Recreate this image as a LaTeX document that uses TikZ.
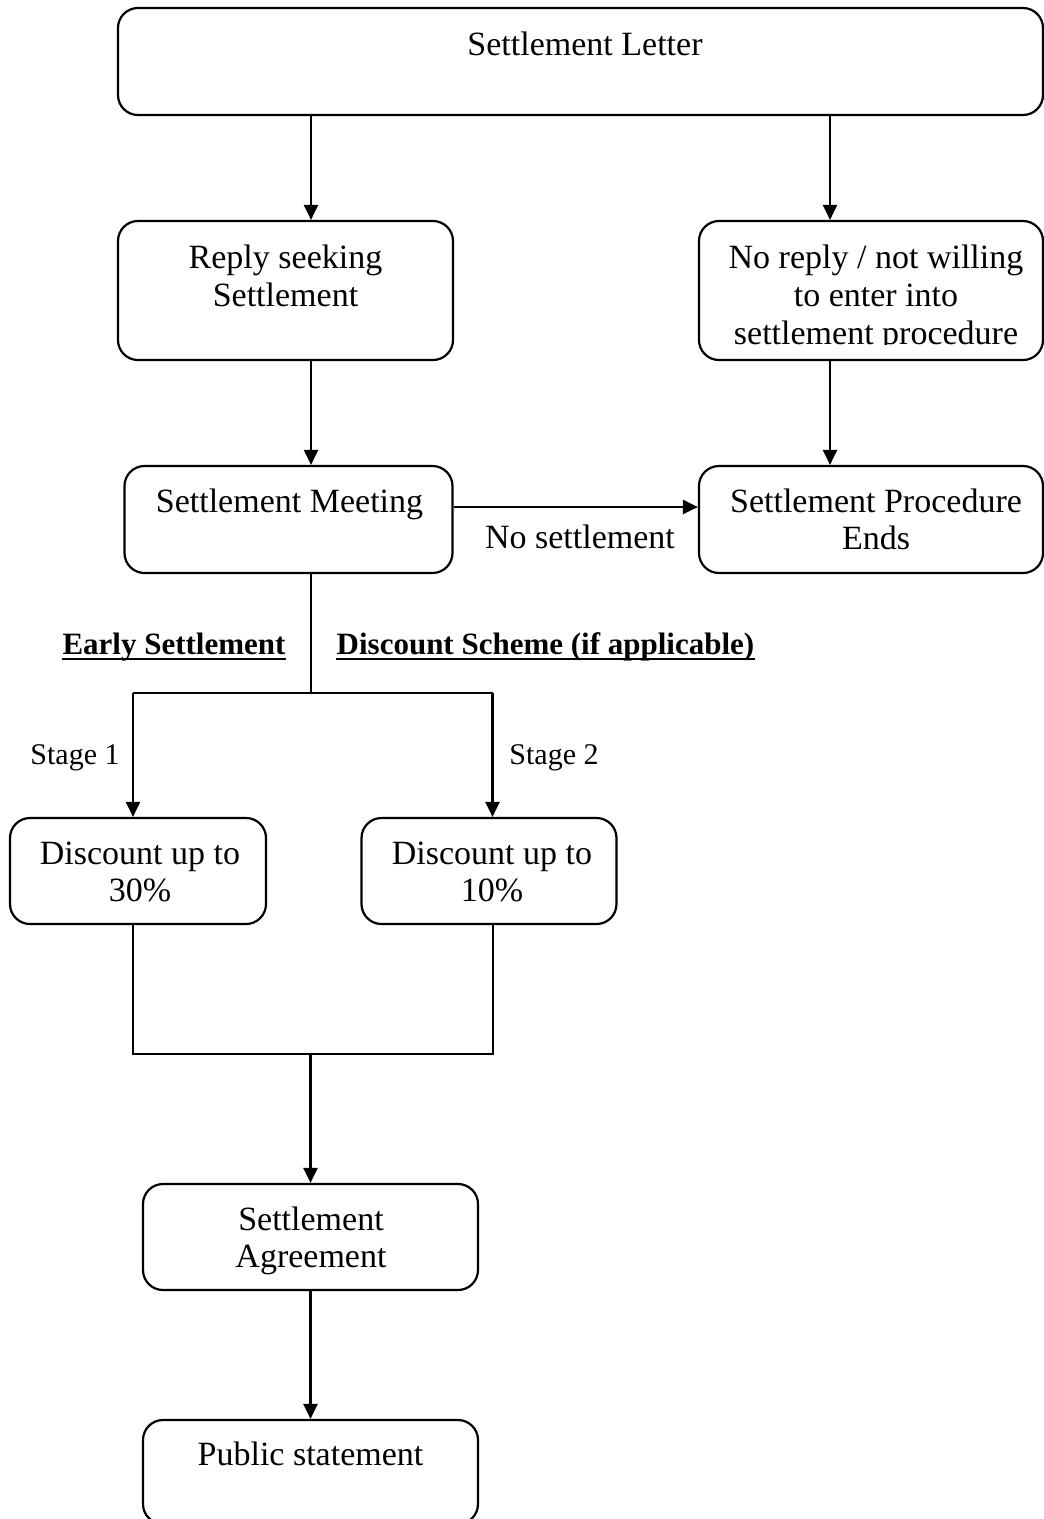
\documentclass[tikz,border=0pt]{standalone}
\usepackage{fontspec}
\setmainfont{Liberation Serif}
\usetikzlibrary{arrows.meta}
\begin{document}
\begin{tikzpicture}[x=1pt,y=-1pt,
  box/.style={draw, line width=2.2pt, rounded corners=20pt, inner sep=0pt},
  txt/.style={font=\fontsize{34}{38}\selectfont, inner sep=0pt, anchor=base},
  lbl/.style={font=\fontsize{30}{34}\selectfont, inner sep=0pt, anchor=base},
  blbl/.style={font=\fontsize{31}{35}\selectfont\bfseries, inner sep=0pt, anchor=base},
  arr/.style={line width=2.2pt, -{Triangle[length=15pt,width=14pt]}},
  conn/.style={line width=2pt},
  thinconn/.style={line width=1.5pt},
  uline/.style={line width=2.4pt},
]
\useasboundingbox (0,0) rectangle (1044,1519);
\clip (0,0) rectangle (1044,1519);

% boxes
\node[box, minimum width=925pt, minimum height=107pt] (letter)  at (580.5,61.5) {};
\node[box, minimum width=335pt, minimum height=139pt] (reply)   at (285.5,290.5) {};
\node[box, minimum width=344pt, minimum height=139pt] (noreply) at (871,290.5) {};
\node[box, minimum width=328pt, minimum height=107pt] (meeting) at (288.5,519.5) {};
\node[box, minimum width=344pt, minimum height=107pt] (ends)    at (871,519.5) {};
\node[box, minimum width=256pt, minimum height=106pt] (d30)     at (138,871) {};
\node[box, minimum width=255pt, minimum height=106pt] (d10)     at (489,871) {};
\node[box, minimum width=335pt, minimum height=106pt] (agree)   at (310.5,1237) {};
\node[box, minimum width=335pt, minimum height=104pt] (public)  at (310.5,1472) {};

% texts
\node[txt] (tletter) at (585,55) {Settlement Letter};
\node[txt] (treply1) at (285.5,268) {Reply seeking};
\node[txt] (treply2) at (285.5,306) {Settlement};
\begin{scope}
  \clip (699,221) rectangle (1044,344.5);
  \node[txt] (tno1) at (876,268) {No reply / not willing};
  \node[txt] (tno2) at (876,306) {to enter into};
  \node[txt] (tno3) at (876,344) {settlement procedure};
\end{scope}
\node[txt] (tmeet) at (289.5,512) {Settlement Meeting};
\node[txt] (tends1) at (876,512) {Settlement Procedure};
\node[txt] (tends2) at (876,549) {Ends};
\node[txt] (tnoset) at (580,548) {No settlement};
\node[blbl] (early) at (174,654) {Early Settlement};
\node[blbl] (scheme) at (545.5,654) {Discount Scheme (if applicable)};
\draw[uline] ([yshift=-5pt]early.base west) -- ([yshift=-5pt]early.base east);
\draw[uline] ([yshift=-5pt]scheme.base west) -- ([yshift=-5pt]scheme.base east);
\node[lbl] (stage1) at (75,764) {Stage 1};
\node[lbl] (stage2) at (554,764) {Stage 2};
\node[txt] (td301) at (140,864) {Discount up to};
\node[txt] (td302) at (140,901) {30\%};
\node[txt] (td101) at (492,864) {Discount up to};
\node[txt] (td102) at (492,901) {10\%};
\node[txt] (tag1) at (311,1230) {Settlement};
\node[txt] (tag2) at (311,1267) {Agreement};
\node[txt] (tpub) at (310.5,1465) {Public statement};

% connector guide coordinates
\coordinate (xa) at (311,0);
\coordinate (xb) at (830,0);
\coordinate (xl) at (133,0);
\coordinate (xr) at (492.5,0);
\coordinate (ym) at (0,507);
\coordinate (fork) at (311,693);
\coordinate (join) at (310.5,1054);

% connectors
\draw[arr] (letter.south -| xa) -- (reply.north -| xa);
\draw[arr] (letter.south -| xb) -- (noreply.north -| xb);
\draw[arr] (reply.south -| xa) -- (meeting.north -| xa);
\draw[arr] (noreply.south -| xb) -- (ends.north -| xb);
\draw[arr] (meeting.east |- ym) -- (ends.west |- ym);
\draw[thinconn] (meeting.south -| fork) -- (fork);
\draw[conn] (fork -| xl) -- (fork -| xr);
\draw[arr] (fork -| xl) -- (d30.north -| xl);
\draw[arr] (fork -| xr) -- (d10.north -| xr);
\draw[conn] (d30.south -| xl) -- (join -| xl) -- (join -| xr) -- (d10.south -| xr);
\draw[arr] (join) -- (agree.north -| join);
\draw[arr] (agree.south -| join) -- (public.north -| join);
\end{tikzpicture}
\end{document}
